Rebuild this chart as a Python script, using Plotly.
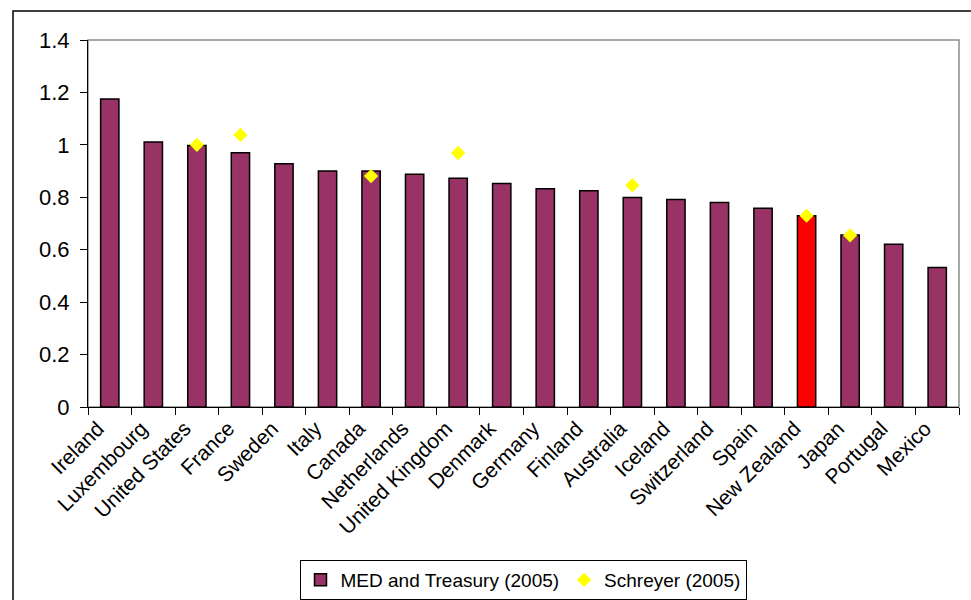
import plotly.graph_objects as go

# Country ordering along the x axis
countries = [
    "Ireland", "Luxembourg", "United States", "France", "Sweden", "Italy",
    "Canada", "Netherlands", "United Kingdom", "Denmark", "Germany", "Finland",
    "Australia", "Iceland", "Switzerland", "Spain", "New Zealand", "Japan",
    "Portugal", "Mexico",
]

# MED and Treasury (2005) estimates
med_treasury = [
    1.175, 1.011, 0.998, 0.970, 0.928, 0.900,
    0.900, 0.888, 0.873, 0.853, 0.833, 0.825,
    0.799, 0.792, 0.780, 0.758, 0.730, 0.656,
    0.621, 0.532,
]

# Schreyer (2005) estimates, only available for some countries
schreyer_countries = ["United States", "France", "Canada", "United Kingdom",
                      "Australia", "New Zealand", "Japan"]
schreyer_values = [1.000, 1.038, 0.881, 0.969, 0.846, 0.730, 0.655]

highlight = "New Zealand"

BAR = "#993366"
bar_colors = ["#FF0000" if c == highlight else BAR for c in countries]

fig = go.Figure()
fig.add_trace(go.Bar(
    x=countries, y=med_treasury, name="MED and Treasury (2005)",
    width=0.42,
    marker=dict(color=bar_colors, line=dict(color="black", width=1.5)),
))
fig.add_trace(go.Scatter(
    x=schreyer_countries, y=schreyer_values, name="Schreyer (2005)",
    mode="markers",
    marker=dict(symbol="diamond", color="#FFFF00", size=11, line=dict(width=0)),
))

L, R, T, B = 88, 12, 40, 193
W, H = 971, 600
pw, ph = W - L - R, H - T - B


def px_x(p):
    return (p - L) / pw


def px_y(p):
    return (H - B - p) / ph


fig.update_layout(
    width=W, height=H,
    margin=dict(l=L, r=R, t=T, b=B, autoexpand=False),
    paper_bgcolor="white", plot_bgcolor="white",
    font=dict(family="Liberation Sans, Arial, sans-serif", color="black"),
    showlegend=True,
    legend=dict(
        orientation="h", x=px_x(523), y=px_y(580),
        xanchor="center", yanchor="middle",
        bordercolor="black", borderwidth=1,
        font=dict(size=19, family="Liberation Sans, Arial, sans-serif"),
        itemwidth=30, tracegroupgap=0,
    ),
    xaxis=dict(
        type="category", range=[-0.5, len(countries) - 0.5],
        showline=True, linecolor="black", linewidth=1,
        ticks="outside", ticklen=7, tickcolor="black", tickson="boundaries",
        tickangle=-45, tickfont=dict(size=21), ticklabelshift=-12,
        showgrid=False, automargin=False,
    ),
    yaxis=dict(
        range=[0, 1.4], dtick=0.2, tick0=0,
        showline=True, linecolor="black", linewidth=1,
        ticks="outside", ticklen=7, tickcolor="black",
        tickfont=dict(size=22), ticklabelstandoff=6,
        showgrid=False, zeroline=False, automargin=False,
    ),
    shapes=[
        # plot-area frame (top and right edges in grey)
        dict(type="rect", xref="paper", yref="paper", x0=0, y0=0, x1=1, y1=1,
             line=dict(color="#8c8c8c", width=1.5), layer="below"),
        # outer chart border
        dict(type="rect", xref="paper", yref="paper",
             x0=px_x(13), y0=px_y(606), x1=px_x(980), y1=px_y(11),
             line=dict(color="black", width=1.5), layer="below"),
    ],
)

fig.write_html("out.html")
